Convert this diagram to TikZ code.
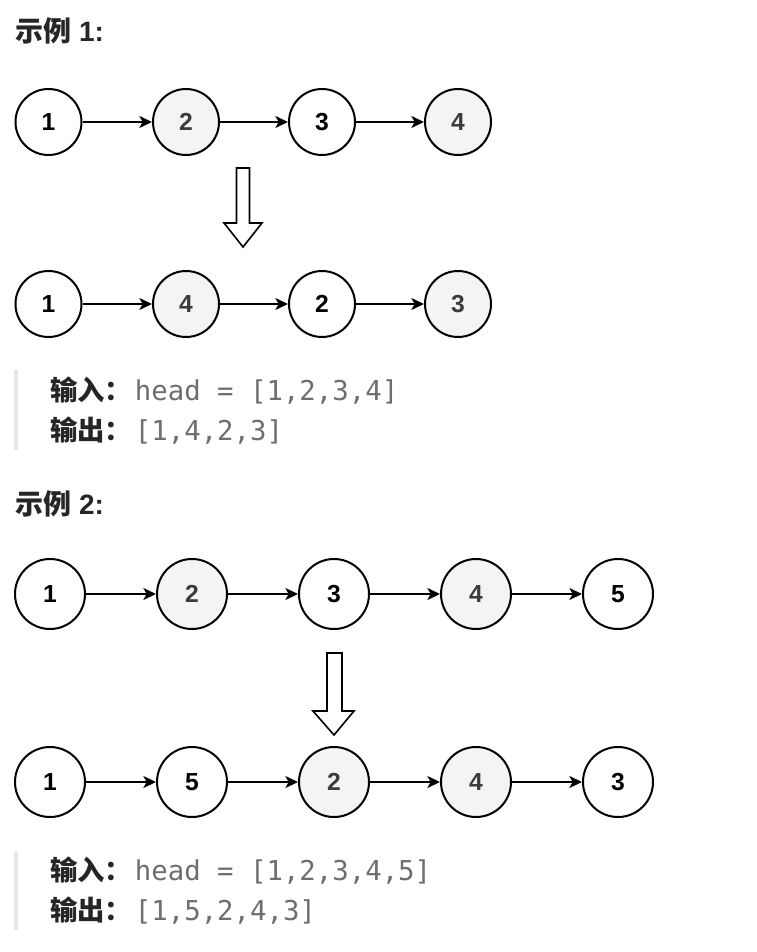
\documentclass[tikz,border=0pt]{standalone}
\usepackage{fontspec}
\setmainfont{Liberation Sans}
\setmonofont{DejaVu Sans Mono}
\newfontfamily\cjk{Noto Sans CJK SC}
\usetikzlibrary{arrows.meta}
\definecolor{nodegray}{HTML}{F4F4F4}
\definecolor{inkdark}{HTML}{262626}
\definecolor{codegray}{HTML}{6E6E6E}
\definecolor{quotebar}{HTML}{E6E6E6}
\tikzset{listnode/.style={circle, draw=black, line width=1.5pt, fill=white,
        inner sep=0pt, minimum size=49.5pt,
        font=\fontsize{18.5}{20}\selectfont\bfseries},
    shaded/.style={fill=nodegray, text=inkdark!90},
    bignode/.style={minimum size=52.5pt},
    link/.style={-{Stealth[length=9.5pt,width=9pt,inset=2.5pt]}, line width=1.2pt},
    bigarrow/.style={draw=black, line width=1.2pt, fill=white, line join=miter},
    title/.style={anchor=base west, inner sep=0pt, text=inkdark,
        font=\fontsize{21}{24}\selectfont\bfseries},
    label/.style={anchor=base west, inner sep=0pt, text=inkdark,
        font=\fontsize{20.5}{22}\selectfont},
    }

\begin{document}
\begin{tikzpicture}[x=0.75pt, y=-0.75pt]
	\useasboundingbox[fill=white] (0,0) rectangle (756,952);
	% example 1
	\node[title] (title1) at (15,42) {{\cjk 示例} 1:};
	\node[listnode] (a1) at (48.5,122) {1};
	\node[listnode, shaded] (a2) at (186,122) {2};
	\node[listnode] (a3) at (322,122) {3};
	\node[listnode, shaded] (a4) at (458,122) {4};
	\foreach \i [count=\j from 2] in {1,...,3}
		\draw[link] (a\i) -- (a\j);
	\draw[bigarrow] (236.5,168) -- (249.5,168) -- (249.5,223) -- (262,223)
		-- (243,247) -- (224,223) -- (236.5,223) -- cycle;
	\node[listnode] (b1) at (48.5,304) {1};
	\node[listnode, shaded] (b2) at (186,304) {4};
	\node[listnode] (b3) at (322,304) {2};
	\node[listnode, shaded] (b4) at (458,304) {3};
	\foreach \i [count=\j from 2] in {1,...,3}
		\draw[link] (b\i) -- (b\j);
	\fill[quotebar] (14,370) rectangle (17.5,450);
	\node[label] (input1) at (50,400)
		{{\cjk\bfseries 输入：}\kern2pt\textcolor{codegray}{\ttfamily head = [1,2,3,4]}};
	\node[label] (output1) at (50,440)
		{{\cjk\bfseries 输出：}\kern2pt\textcolor{codegray}{\ttfamily [1,4,2,3]}};
	% example 2
	\node[title] (title2) at (15,514) {{\cjk 示例} 2:};
	\node[listnode, bignode] (c1) at (50,594) {1};
	\node[listnode, bignode, shaded] (c2) at (192,594) {2};
	\node[listnode, bignode] (c3) at (334,594) {3};
	\node[listnode, bignode, shaded] (c4) at (476,594) {4};
	\node[listnode, bignode] (c5) at (618,594) {5};
	\foreach \i [count=\j from 2] in {1,...,4}
		\draw[link] (c\i) -- (c\j);
	\draw[bigarrow] (327,653) -- (342,653) -- (342,711) -- (354,711)
		-- (334,735) -- (313,711) -- (327,711) -- cycle;
	\node[listnode, bignode] (d1) at (50,782) {1};
	\node[listnode, bignode] (d2) at (192,782) {5};
	\node[listnode, bignode, shaded] (d3) at (334,782) {2};
	\node[listnode, bignode, shaded] (d4) at (476,782) {4};
	\node[listnode, bignode] (d5) at (618,782) {3};
	\foreach \i [count=\j from 2] in {1,...,4}
		\draw[link] (d\i) -- (d\j);
	\fill[quotebar] (14,852) rectangle (17.5,930);
	\node[label] (input2) at (50,880)
		{{\cjk\bfseries 输入：}\kern2pt\textcolor{codegray}{\ttfamily head = [1,2,3,4,5]}};
	\node[label] (output2) at (50,920)
		{{\cjk\bfseries 输出：}\kern2pt\textcolor{codegray}{\ttfamily [1,5,2,4,3]}};
\end{tikzpicture}
\end{document}
